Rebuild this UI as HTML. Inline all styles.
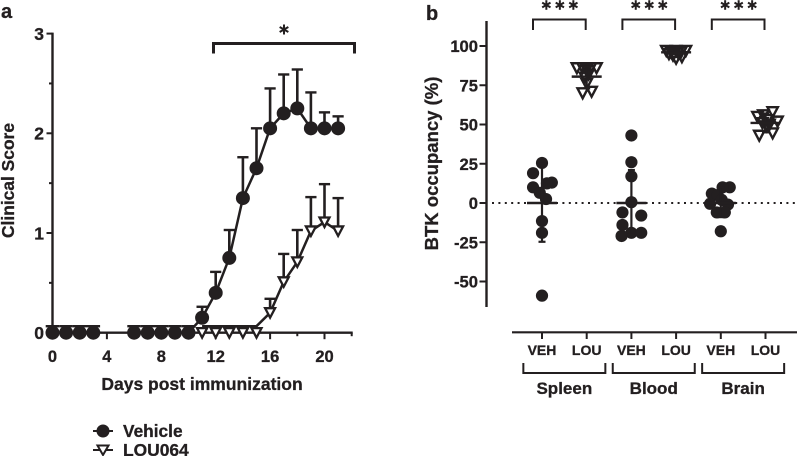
<!DOCTYPE html>
<html lang="en">
<head>
<meta charset="utf-8">
<title>Clinical score and BTK occupancy</title>
<style>
html,body{margin:0;padding:0;background:#fff;}
body{width:797px;height:456px;overflow:hidden;}
svg{display:block;font-family:"Liberation Sans",Arial,sans-serif;font-weight:bold;fill:#231f20;}
svg text{stroke:#231f20;stroke-width:0.3px;}
</style>
</head>
<body>
<svg id="fig" width="797" height="456" viewBox="0 0 797 456" xmlns="http://www.w3.org/2000/svg">
  <text x="1" y="18" font-size="20">a</text>
  <text x="426" y="20" font-size="20">b</text>
  <text transform="translate(14,180.5) rotate(-90)" text-anchor="middle" font-size="17.4">Clinical Score</text>
  <text x="202" y="390" text-anchor="middle" font-size="17.5">Days post immunization</text>
  <text transform="translate(438,163.5) rotate(-90)" text-anchor="middle" font-size="18.5">BTK occupancy (%)</text>
  <g id="panelA"></g>
  <g id="panelB"></g>
  <g>
    <g>
      <line x1="93" x2="113" y1="431" y2="431" stroke="#231f20" stroke-width="2"/>
      <circle cx="103" cy="431" r="6.5"/>
      <text x="123" y="437" font-size="17.3">Vehicle</text>
    </g>
    <g>
      <line x1="93" x2="113" y1="450" y2="450" stroke="#231f20" stroke-width="2"/>
      <path d="M97.5 445.5H108.5L103 455Z" fill="#fff" stroke="#231f20" stroke-width="2"/>
      <text x="123" y="456" font-size="17.4">LOU064</text>
    </g>
  </g>
</svg>
<script>
// ---------- Panel a data ----------
const days = [0,1,2,3,6,7,8,9,10,11,12,13,14,15,16,17,18,19,20,21];
const vehicleMean = [0,0,0,0,0,0,0,0,0,0.15,0.4,0.75,1.35,1.65,2.05,2.2,2.25,2.05,2.05,2.05];
const vehicleUpper = [0,0,0,0,0,0,0,0,0,0.26,0.61,1.03,1.76,2.05,2.45,2.59,2.64,2.41,2.21,2.17];
const louDays = [11,12,13,14,15,16,17,18,19,20,21];
const louMean = [0,0,0,0,0,0.2,0.51,0.71,1.02,1.11,1.02];
const louUpper = [0,0,0,0,0,0.34,0.79,1.03,1.36,1.49,1.35];
const scoreTicks = [0,1,2,3];
const scoreMinorTicks = [0.5,1.5,2.5];
const dayTicks = [0,4,8,12,16,20];
const dayMinorTicks = [2,6,10,14,18,22];

// ---------- Panel b data ----------
const groups = ['VEH','LOU','VEH','LOU','VEH','LOU'];
const tissues = ['Spleen','Blood','Brain'];
const occupancyTicks = [100,75,50,25,0,-25,-50];
const spleenVeh = [25.5,19,13,12.5,10,6.5,2.5,-11.5,-19,-59];
const spleenVehJitter = [0,-0.2,0.22,0.11,-0.2,-0.05,0.09,0,0,0];
const spleenLou = [86,86,86,86,85,82,80,76,71,70];
const spleenLouJitter = [-0.22,0.22,-0.09,0.09,0,0.04,-0.04,0,0.11,-0.09];
const bloodVeh = [43,26,17,0.5,-6,-8,-14,-19,-19,-21];
const bloodVehJitter = [0,0,0,0,-0.2,0.22,-0.2,0,0.22,-0.22];
const bloodLou = [97,97,97,96,96,96,95,94,93,92];
const bloodLouJitter = [-0.22,0.22,0,-0.11,0.11,0.04,-0.16,-0.07,0.13,0];
const brainVeh = [10,10,6,5,2,-0.5,-1,-6,-6,-18];
const brainVehJitter = [0.2,0.04,-0.2,-0.07,0.02,-0.24,0.16,-0.09,0.09,0];
const brainLou = [58,56,55,53,52,51,50,49,44.5,43];
const brainLouJitter = [0.16,-0.05,-0.18,0.04,0.27,-0.07,0.09,0.02,0.16,-0.14];
const means = [0,80.5,0,96,0,51];
const errLow = [-24.7,73,-20,93,-9,45];
const errHigh = [25,87,21,98,10,57];

const NS = 'http://www.w3.org/2000/svg';
const INK = '#231f20';
function add(parent, tag, attrs, text){
  const e = document.createElementNS(NS, tag);
  for (const k in attrs) e.setAttribute(k, attrs[k]);
  if (text !== undefined) e.textContent = text;
  parent.appendChild(e);
  return e;
}
function seg(parent, x1, y1, x2, y2, w){
  return add(parent, 'line', {x1:x1, y1:y1, x2:x2, y2:y2, stroke:INK, 'stroke-width':w});
}
function tri(parent, x, y, half, sw, fill){
  const h = half * 1.9;
  return add(parent, 'path', {
    d:'M'+(x-half)+' '+(y-h*0.48)+'H'+(x+half)+'L'+x+' '+(y+h*0.52)+'Z',
    fill:fill, stroke:INK, 'stroke-width':sw, 'stroke-linejoin':'miter'
  });
}
function star(parent, x, y, r, sw){
  for (let i = 0; i < 3; i++){
    const a = Math.PI / 2 + i * Math.PI / 3;
    const dx = Math.cos(a) * r, dy = Math.sin(a) * r;
    seg(parent, x-dx, y-dy, x+dx, y+dy, sw);
  }
}

// ---------- Panel a ----------
const A = document.getElementById('panelA');
const ax = d => 52.5 + d * 13.6;
const ay = v => 332.7 - v * 99.7;

const aAxes = add(A, 'g', {});


seg(aAxes, ax(0), ay(3)-1, ax(0), ay(0), 2.4);
seg(aAxes, ax(0), ay(0), ax(22)+1, ay(0), 2.4);
scoreTicks.forEach(v => {
  seg(aAxes, 46.5, ay(v), ax(0), ay(v), 2);
  const t = add(aAxes, 'text', {x:44, y:ay(v)+6.3, 'text-anchor':'end', 'font-size':17.5}, v);
  
  
});
scoreMinorTicks.forEach(v => seg(aAxes, 49, ay(v), ax(0), ay(v), 2));
dayTicks.forEach(d => {
  seg(aAxes, ax(d), ay(0), ax(d), ay(0)+6.5, 2);
  const t = add(aAxes, 'text', {x:ax(d), y:362, 'text-anchor':'middle', 'font-size':16.5}, d);
  
  
});
dayMinorTicks.forEach(d => seg(aAxes, ax(d), ay(0), ax(d), ay(0)+3.5, 2));

function runs(ds){
  const out = [[]];
  ds.forEach((d, i) => {
    if (i && d - ds[i-1] > 1) out.push([]);
    out[out.length-1].push(i);
  });
  return out;
}
const louSeries = add(A, 'g', {});


const vehSeries = add(A, 'g', {});



const zeroLift = 6.5;
runs(days).forEach(r => {
  add(vehSeries, 'polyline', {
    points:r.map(i => ax(days[i])+','+ay(vehicleMean[i])).join(' '),
    fill:'none', stroke:INK, 'stroke-width':2.5
  });
});
days.forEach((d, i) => {
  const atZero = vehicleUpper[i] === 0;
  const capY = ay(vehicleUpper[i]) - (atZero ? zeroLift : 0);
  const capHalf = atZero ? 6.8 : 5.6;
  seg(vehSeries, ax(d), ay(vehicleMean[i]), ax(d), capY, 2.6);
  seg(vehSeries, ax(d)-capHalf, capY, ax(d)+capHalf, capY, 2.4);
  const m = add(vehSeries, 'circle', {cx:ax(d), cy:ay(vehicleMean[i]), r:7, fill:INK});
  
  
});
add(louSeries, 'polyline', {
  points:louDays.map((d, i) => ax(d)+','+(ay(louMean[i])-(louMean[i]===0?zeroLift:0))).join(' '),
  fill:'none', stroke:INK, 'stroke-width':2.5
});
louDays.forEach((d, i) => {
  if (louUpper[i] > 0){
    seg(louSeries, ax(d), ay(louMean[i]), ax(d), ay(louUpper[i]), 2.6);
    seg(louSeries, ax(d)-5.6, ay(louUpper[i]), ax(d)+5.6, ay(louUpper[i]), 2.4);
  }
});
const aTop = add(A, 'g', {});


louDays.forEach((d, i) => {
  const m = tri(aTop, ax(d), ay(louMean[i]), 5, 2.3, '#fff');
  
  
});
const aBr = add(A, 'g', {});


add(aBr, 'path', {d:'M213.5 53.5V43.5H354.5V53.5', fill:'none', stroke:INK, 'stroke-width':3});
star(aBr, 284, 29.5, 5, 2);

// ---------- Panel b ----------
const B = document.getElementById('panelB');
const by = v => 203 - v * 1.57;
const bx = c => 542 + c * 44.7;

const bAxes = add(B, 'g', {});


seg(bAxes, 486.5, 21, 486.5, 307, 2.4);
seg(bAxes, 512, 332.3, 797, 332.3, 2.2);
occupancyTicks.forEach(v => {
  seg(bAxes, 479.5, by(v), 486.5, by(v), 2);
  const t = add(bAxes, 'text', {x:478, y:by(v)+6, 'text-anchor':'end', 'font-size':16.6}, v);
  
  
});
const zero = seg(bAxes, 492, by(0), 797, by(0), 2);
zero.setAttribute('stroke-dasharray', '2 4.4');



groups.forEach((g, c) => {
  seg(bAxes, bx(c), 332.3, bx(c), 339, 2);
  const t = add(bAxes, 'text', {x:bx(c), y:355, 'text-anchor':'middle', 'font-size':14}, g);
  
  
});
tissues.forEach((name, k) => {
  const cx = (bx(k*2) + bx(k*2+1)) / 2;
  add(bAxes, 'path', {
    d:'M'+(cx-41)+' 363V373H'+(cx+41)+'V363',
    fill:'none', stroke:INK, 'stroke-width':2
  });
  const t = add(bAxes, 'text', {x:cx, y:394, 'text-anchor':'middle', 'font-size':17}, name);
  
  
  const br = add(B, 'path', {
    d:'M'+(bx(k*2)-9)+' 30V19.5H'+(bx(k*2+1)-1)+'V30',
    fill:'none', stroke:INK, 'stroke-width':2
  });
  
  
  [-13.5, 0, 13.5].forEach(off => star(B, cx - 4.5 + off, 5, 4.8, 2));
});

const valueSets = [spleenVeh, spleenLou, bloodVeh, bloodLou, brainVeh, brainLou];
const jitterSets = [spleenVehJitter, spleenLouJitter, bloodVehJitter, bloodLouJitter, brainVehJitter, brainLouJitter];
valueSets.forEach((vals, c) => {
  const g = add(B, 'g', {});
  
  
  const x0 = bx(c);
  const isVeh = groups[c] === 'VEH';
  if (isVeh) {
    vals.forEach((v, i) => add(g, 'circle', {cx:x0 + jitterSets[c][i]*44.7, cy:by(v), r:6.1, fill:INK}));
  } else {
    vals.forEach((v, i) => tri(g, x0 + jitterSets[c][i]*44.7, by(v), 5.2, 2.4, 'none'));
  }
  seg(g, x0, by(errLow[c]), x0, by(errHigh[c]), 2.2);
  seg(g, x0-3.5, by(errLow[c]), x0+3.5, by(errLow[c]), 2.2);
  seg(g, x0-3.5, by(errHigh[c]), x0+3.5, by(errHigh[c]), 2.2);
  seg(g, x0-15, by(means[c]), x0+15, by(means[c]), 2.4);
});
</script>
</body>
</html>
